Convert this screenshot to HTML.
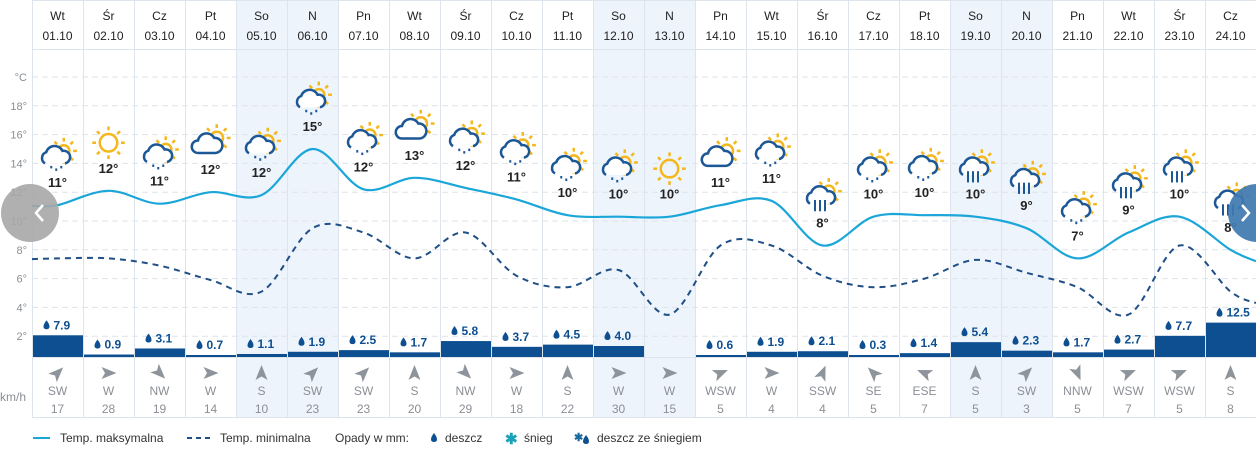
<!DOCTYPE html>
<html><head><meta charset="utf-8"><style>
html,body{margin:0;padding:0;background:#fff;}
svg{display:block;font-family:"Liberation Sans",Arial,sans-serif;}
</style></head><body>
<svg id="s" width="1256" height="454" viewBox="0 0 1256 454" xmlns="http://www.w3.org/2000/svg"></svg>
<script>
const days=["Wt","Śr","Cz","Pt","So","N","Pn","Wt","Śr","Cz","Pt","So","N","Pn","Wt","Śr","Cz","Pt","So","N","Pn","Wt","Śr","Cz"];
const maxT=[11,12,11,12,12,15,12,13,12,11,10,10,10,11,11,8,10,10,10,9,7,9,10,8];
const maxC=[11.1,12.1,11.2,12,11.8,15,12.2,13,12.3,11.5,10.4,10.3,10.3,11.1,11.4,8.3,10.3,10.4,10.3,9.5,7.4,9.2,10.3,8];
const minC=[7.4,7.4,6.9,5.9,5.1,9.5,9.2,7.4,9.2,6.2,5.4,6.6,3.5,8.3,8.3,6.2,5.4,6.0,7.3,6.4,5.4,3.5,8.3,5.1];
const pr=[7.9,0.9,3.1,0.7,1.1,1.9,2.5,1.7,5.8,3.7,4.5,4.0,null,0.6,1.9,2.1,0.3,1.4,5.4,2.3,1.7,2.7,7.7,12.5];
const wd=["SW","W","NW","W","S","SW","SW","S","NW","W","S","W","W","WSW","W","SSW","SE","ESE","S","SW","NNW","WSW","WSW","S"];
const ws=[17,28,19,14,10,23,23,20,29,18,22,30,15,5,4,4,5,7,5,3,5,7,5,8];
const ic=["rs","s","rs","cs","rs","rs","rs","cs","rs","rs","rs","rs","s","cs","rs","hs","rs","rs","hs","hs","rs","hs","hs","hs"];
const ang={N:0,NNE:22.5,NE:45,ENE:67.5,E:90,ESE:112.5,SE:135,SSE:157.5,S:180,SSW:202.5,SW:225,WSW:247.5,W:270,WNW:292.5,NW:315,NNW:337.5};
const X0=32,CW=51;const cx=i=>X0+CW/2+CW*i;const ty=t=>365-14.4*t;
let h='';
[4,5,11,12,18,19].forEach(i=>h+=`<rect x="${X0+CW*i}" y="0" width="${CW}" height="418" fill="#eef4fb"/>`);
[18,16,14,12,10,8,6,4,2].forEach(t=>{h+=`<line x1="${X0}" x2="1256" y1="${ty(t)}" y2="${ty(t)}" stroke="#dde3ea" stroke-dasharray="6,4"/>`;h+=`<text x="27" y="${ty(t)+4}" font-size="11" fill="#8a8f96" text-anchor="end">${t}°</text>`;});
h+=`<line x1="${X0}" x2="1256" y1="77" y2="77" stroke="#dde3ea" stroke-dasharray="6,4"/><text x="27" y="81" font-size="11" fill="#8a8f96" text-anchor="end">°C</text>`;
for(let i=0;i<=24;i++)h+=`<line x1="${X0+CW*i+.5}" x2="${X0+CW*i+.5}" y1="0" y2="418" stroke="#dde4ec"/>`;
h+=`<line x1="${X0}" x2="1256" y1="49.5" y2="49.5" stroke="#dde4ec"/><line x1="${X0}" x2="1256" y1="0.5" y2="0.5" stroke="#dde4ec"/><line x1="${X0}" x2="1256" y1="417.5" y2="417.5" stroke="#dde4ec"/><line x1="${X0}" x2="1256" y1="357.5" y2="357.5" stroke="#dde4ec"/>`;
for(let i=0;i<24;i++){h+=`<text x="${cx(i)}" y="20" font-size="12" fill="#222" text-anchor="middle">${days[i]}</text><text x="${cx(i)}" y="40" font-size="12" fill="#222" text-anchor="middle">${String(i+1).padStart(2,'0')}.10</text>`;}
function path(vals){const p=[[X0,ty(vals[0]-0.05)]];vals.forEach((v,i)=>p.push([cx(i),ty(v)]));p.push([1256,ty(vals[vals.length-1]-0.8)]);
let d=`M${p[0][0]},${p[0][1]}`;for(let i=0;i<p.length-1;i++){const p0=p[Math.max(0,i-1)],p1=p[i],p2=p[i+1],p3=p[Math.min(p.length-1,i+2)];
const c1=[p1[0]+(p2[0]-p0[0])/6,p1[1]+(p2[1]-p0[1])/6],c2=[p2[0]-(p3[0]-p1[0])/6,p2[1]-(p3[1]-p1[1])/6];d+=`C${c1[0].toFixed(1)},${c1[1].toFixed(1)} ${c2[0].toFixed(1)},${c2[1].toFixed(1)} ${p2[0]},${p2[1].toFixed(1)}`;}return d;}
h+=`<path d="${path(minC)}" fill="none" stroke="#1f4f87" stroke-width="2" stroke-dasharray="6,5"/>`;
h+=`<path d="${path(maxC)}" fill="none" stroke="#1ba6d9" stroke-width="2.2"/>`;
const sun=(x,y,r)=>{let s=`<circle cx="${x}" cy="${y}" r="${r}" fill="none" stroke="#f4b71c" stroke-width="2"/>`;for(let k=0;k<8;k++){const a=k*Math.PI/4;s+=`<line x1="${x+Math.cos(a)*(r+3)}" y1="${y+Math.sin(a)*(r+3)}" x2="${x+Math.cos(a)*(r+6)}" y2="${y+Math.sin(a)*(r+6)}" stroke="#f4b71c" stroke-width="2"/>`;}return s;};
const cloud=(x,y,s)=>`<path d="M${x-9*s},${y+5*s} a${5*s},${5*s} 0 0 1 ${1*s},${-9*s} a${7*s},${7*s} 0 0 1 ${13*s},${-1*s} a${5*s},${5*s} 0 0 1 ${2*s},${10*s}" fill="#fff" stroke="#1c5796" stroke-width="2"/>`;
function icon(t,x,y){let s='';if(t=='s')return sun(x,y,7);
if(t=='cs'){s+=sun(x+5,y-5,5);s+=`<path d="M${x-10},${y+7} a5,5 0 0 1 0,-10 a7,7 0 0 1 13,-2 a6,6 0 0 1 1,12 z" fill="#fff" stroke="#1c5796" stroke-width="2"/>`;return s;}
s+=sun(x+5,y-5,4.5);s+=cloud(x-1,y,1);
if(t=='rs'){[[-4,0],[0,2],[4,0]].forEach(([dx,dy])=>s+=`<line x1="${x-1+dx}" y1="${y+7+dy}" x2="${x-1+dx}" y2="${y+9+dy}" stroke="#1c5796" stroke-width="1.6"/>`);}
else{[-5,-1,3].forEach(dx=>s+=`<line x1="${x-1+dx}" y1="${y+2}" x2="${x-1+dx}" y2="${y+11}" stroke="#1c5796" stroke-width="1.6"/>`);}
return s;}
for(let i=0;i<24;i++){const ly=ty(maxC[i])-22;const iy=ly-26;h+=`<g transform="translate(${cx(i)},${iy}) scale(1.25) translate(${-cx(i)},${-iy})">${icon(ic[i],cx(i),iy)}</g>`;h+=`<text x="${cx(i)}" y="${ly+4}" font-size="13" font-weight="bold" fill="#222" text-anchor="middle">${maxT[i]}°</text>`;}
const drop=(x,y)=>`<path d="M${x},${y-5} C${x+4},${y} ${x+4},${y+4} ${x},${y+4} C${x-4},${y+4} ${x-4},${y} ${x},${y-5}z" fill="#0d4f91"/>`;
for(let i=0;i<24;i++){if(pr[i]==null)continue;const bh=Math.max(2,pr[i]*2.75);const x=X0+CW*i;h+=`<rect x="${x+1}" y="${357-bh}" width="${CW-1}" height="${bh}" fill="#0d4f91"/>`;
const ly=357-bh-10;h+=drop(cx(i)-11,ly)+`<text x="${cx(i)-4}" y="${ly+4}" font-size="12" font-weight="bold" fill="#0d4f91">${pr[i].toFixed(1)}</text>`;}
for(let i=0;i<24;i++){const a=ang[wd[i]]+180;h+=`<g transform="translate(${cx(i)},373) rotate(${a})"><path d="M0,-8 L6,7 L0,3.5 L-6,7z" fill="#8e949b"/></g>`;
h+=`<text x="${cx(i)}" y="395" font-size="12" fill="#8a8f96" text-anchor="middle">${wd[i]}</text><text x="${cx(i)}" y="413" font-size="12" fill="#8a8f96" text-anchor="middle">${ws[i]}</text>`;}
h+=`<text x="0" y="401" font-size="12" fill="#8a8f96">km/h</text>`;
h+=`<circle cx="30" cy="213" r="29" fill="#a7a7a7" opacity="0.9"/><path d="M46,205 L39,213 L46,221" fill="none" stroke="#fff" stroke-width="2.5" transform="translate(-3,0)"/>`;
h+=`<circle cx="1257" cy="213" r="29" fill="#3f78b0" opacity="0.92"/><path d="M1242,205 L1249,213 L1242,221" fill="none" stroke="#fff" stroke-width="2.5"/>`;
h+=`<line x1="33" x2="50" y1="438" y2="438" stroke="#1ba6d9" stroke-width="2"/><text x="60" y="442" font-size="12" fill="#333">Temp. maksymalna</text>`;
h+=`<line x1="187" x2="210" y1="438" y2="438" stroke="#1f4f87" stroke-width="2" stroke-dasharray="5,4"/><text x="220" y="442" font-size="12" fill="#333">Temp. minimalna</text>`;
h+=`<text x="335" y="442" font-size="12" fill="#333">Opady w mm:</text>`+drop(434,438)+`<text x="445" y="442" font-size="12" fill="#333">deszcz</text>`;
h+=`<text x="505" y="444" font-size="15" font-weight="bold" fill="#1aa3b6">✱</text><text x="524" y="442" font-size="12" fill="#333">śnieg</text>`;
h+=`<text x="574" y="441" font-size="11" font-weight="bold" fill="#1a6a9e">✱</text>`+drop(586,440)+`<text x="597" y="442" font-size="12" fill="#333">deszcz ze śniegiem</text>`;
document.getElementById('s').innerHTML=h;
</script>
</body></html>
